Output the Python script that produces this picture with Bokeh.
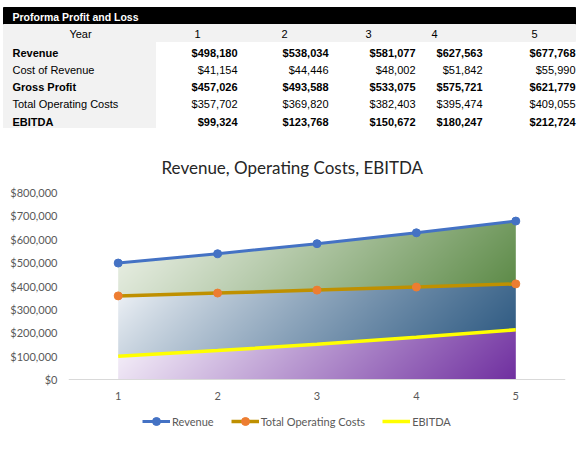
import numpy as np
from bokeh.plotting import figure
from bokeh.models import (ColumnDataSource, Range1d, FixedTicker, NumeralTickFormatter,
                          Legend, LegendItem)
from bokeh.core.properties import value
from bokeh.embed import file_html
from bokeh.resources import INLINE

# ---- data ----
years = [1, 2, 3, 4, 5]
revenue = [498180, 538034, 581077, 627563, 677768]
cost_of_revenue = [41154, 44446, 48002, 51842, 55990]
gross_profit = [457026, 493588, 533075, 575721, 621779]
operating_costs = [357702, 369820, 382403, 395474, 409055]
ebitda = [99324, 123768, 150672, 180247, 212724]

row_labels = ["Revenue", "Cost of Revenue", "Gross Profit", "Total Operating Costs", "EBITDA"]
row_values = [revenue, cost_of_revenue, gross_profit, operating_costs, ebitda]
row_bold = [True, False, True, False, True]
y_ticks = [0, 100000, 200000, 300000, 400000, 500000, 600000, 700000, 800000]

W = 584
TABLE_H = 128
CHART_H = 323
TXT = "Liberation Sans"
CHART_FONT = "Lato"

# ---- table on top ----
tbl = figure(width=W, height=TABLE_H, x_range=Range1d(0, W), y_range=Range1d(TABLE_H, 0),
             output_backend="svg", toolbar_location=None, min_border=0,
             x_axis_type=None, y_axis_type=None)
tbl.grid.visible = False
tbl.outline_line_color = None
tbl.background_fill_color = "white"
tbl.border_fill_color = "white"

tbl.quad(left=3, right=575, top=7, bottom=24, color="black")
tbl.quad(left=3, right=575, top=24, bottom=41, color="#f2f2f2")
tbl.quad(left=3, right=155, top=41, bottom=TABLE_H, color="#f2f2f2")

tbl.text(x=[12], y=[16], text=["Proforma Profit and Loss"], text_font=value(TXT),
         text_font_style="bold", text_font_size="10.5px", text_color="white",
         text_align="left", text_baseline="middle")

col_center = [197, 284, 368, 434, 534]
col_right = [237, 328, 415, 482, 575]
row_y = [52, 69.3, 86.6, 103.9, 121.2]

tbl.text(x=[80], y=[33], text=["Year"], text_font=value(TXT), text_font_size="11px",
         text_color="black", text_align="center", text_baseline="middle")
tbl.text(x=col_center, y=[33] * 5, text=[str(y) for y in years], text_font=value(TXT),
         text_font_size="11px", text_color="black", text_align="center", text_baseline="middle")

for bold in (True, False):
    lx, ly, lt, vx, vy, vt = [], [], [], [], [], []
    for r, lab in enumerate(row_labels):
        if row_bold[r] != bold:
            continue
        lx.append(12); ly.append(row_y[r]); lt.append(lab)
        for c, v in enumerate(row_values[r]):
            vx.append(col_right[c]); vy.append(row_y[r]); vt.append(f"${v:,}")
    style = "bold" if bold else "normal"
    tbl.text(x=lx, y=ly, text=lt, text_font=value(TXT), text_font_style=style,
             text_font_size="11px", text_color="black", text_align="left", text_baseline="middle")
    tbl.text(x=vx, y=vy, text=vt, text_font=value(TXT), text_font_style=style,
             text_font_size="11px", text_color="black", text_align="right", text_baseline="middle")

# ---- chart ----
# frame runs down to the bottom of the canvas so the legend can sit inside it;
# the x axis is pinned at y=0
B_LEFT, B_RIGHT, B_TOP = 68, 19, 64
PLOT_H = 187            # pixels between $0 and $800,000
BELOW_ZERO = CHART_H - B_TOP - PLOT_H
y_lo = -800000 * BELOW_ZERO / PLOT_H

p = figure(width=W, height=CHART_H, x_range=Range1d(0.5, 5.5), y_range=Range1d(y_lo, 800000),
           output_backend="svg", toolbar_location=None,
           min_border_left=B_LEFT, min_border_right=B_RIGHT,
           min_border_top=B_TOP, min_border_bottom=0)
p.title.text = "Revenue, Operating Costs, EBITDA"
p.title.text_font = CHART_FONT
p.title.text_font_style = "normal"
p.title.text_font_size = "17px"
p.title.text_color = "#262626"
p.title.align = "left"
p.title.offset = 93
p.title.standoff = 29
p.grid.visible = False
p.outline_line_color = None
p.background_fill_color = "white"
p.border_fill_color = "white"

# gradient filled bands, drawn as one raster under the lines
frame_w = W - B_LEFT - B_RIGHT
sx = frame_w / 5.0
sy = PLOT_H / 800000.0
nx, ny = 800, 330
ymax = max(revenue)
gx = years[0] + (np.arange(nx) + 0.5) * (years[-1] - years[0]) / nx
gy = (np.arange(ny) + 0.5) * ymax / ny
X, Y = np.meshgrid(gx, gy)
top_rev = np.interp(X, years, revenue)
top_op = np.interp(X, years, operating_costs)
top_eb = np.interp(X, years, ebitda)

rgba = np.zeros((ny, nx, 4), dtype=np.float64)
bands = [
    (revenue, (Y <= top_rev) & (Y > top_op), (240, 244, 236), (60, 115, 35), 1.1),
    (operating_costs, (Y <= top_op) & (Y > top_eb), (246, 248, 251), (31, 78, 121), 0.85),
    (ebitda, Y <= top_eb, (251, 248, 253), (112, 48, 160), 1.0),
]
for series, mask, light, dark, pw in bands:
    hb = max(series) * sy
    wb = (years[-1] - years[0]) * sx
    t = ((X - years[0]) * sx + (max(series) - Y) * sy) / (wb + hb)
    f = np.clip(t, 0, 1) ** pw
    for k in range(3):
        ch = light[k] + (dark[k] - light[k]) * f
        rgba[..., k] = np.where(mask, ch, rgba[..., k])
    rgba[..., 3] = np.where(mask, 255, rgba[..., 3])

img = np.empty((ny, nx), dtype=np.uint32)
view = img.view(dtype=np.uint8).reshape((ny, nx, 4))
view[...] = rgba.astype(np.uint8)
p.image_rgba(image=[img], x=years[0], y=0, dw=years[-1] - years[0], dh=ymax)

src = ColumnDataSource(dict(year=years, revenue=revenue, op=operating_costs, ebitda=ebitda))
eb_line = p.line("year", "ebitda", source=src, line_color="#ffff00", line_width=3.5)
op_line = p.line("year", "op", source=src, line_color="#bf9000", line_width=3.5)
op_dots = p.scatter("year", "op", source=src, size=8, color="#ed7d31")
rev_line = p.line("year", "revenue", source=src, line_color="#4472c4", line_width=3)
rev_dots = p.scatter("year", "revenue", source=src, size=8, color="#4472c4")

p.xaxis.ticker = FixedTicker(ticks=years)
p.xaxis.fixed_location = 0
p.yaxis.ticker = FixedTicker(ticks=y_ticks)
p.yaxis.formatter = NumeralTickFormatter(format="$0,0")
for ax in (p.xaxis, p.yaxis):
    ax.major_tick_line_color = None
    ax.minor_tick_line_color = None
    ax.major_tick_out = 0
    ax.major_tick_in = 0
    ax.major_label_text_font = CHART_FONT
    ax.major_label_text_font_size = "11px"
    ax.major_label_text_color = "#595959"
p.xaxis.axis_line_color = "#d9d9d9"
p.xaxis.major_label_standoff = 12
p.yaxis.axis_line_color = None
p.yaxis.major_label_standoff = 11

legend = Legend(items=[
    LegendItem(label="Revenue", renderers=[rev_line, rev_dots]),
    LegendItem(label="Total Operating Costs", renderers=[op_line, op_dots]),
    LegendItem(label="EBITDA", renderers=[eb_line]),
], orientation="horizontal", location=(74, 20), border_line_color=None,
   background_fill_alpha=0, glyph_width=28, label_standoff=2, spacing=17, padding=0, margin=0,
   label_text_font=CHART_FONT, label_text_font_size="11px", label_text_color="#595959")
p.add_layout(legend, "center")

open("out.html", "w").write(file_html([tbl, p], INLINE))
